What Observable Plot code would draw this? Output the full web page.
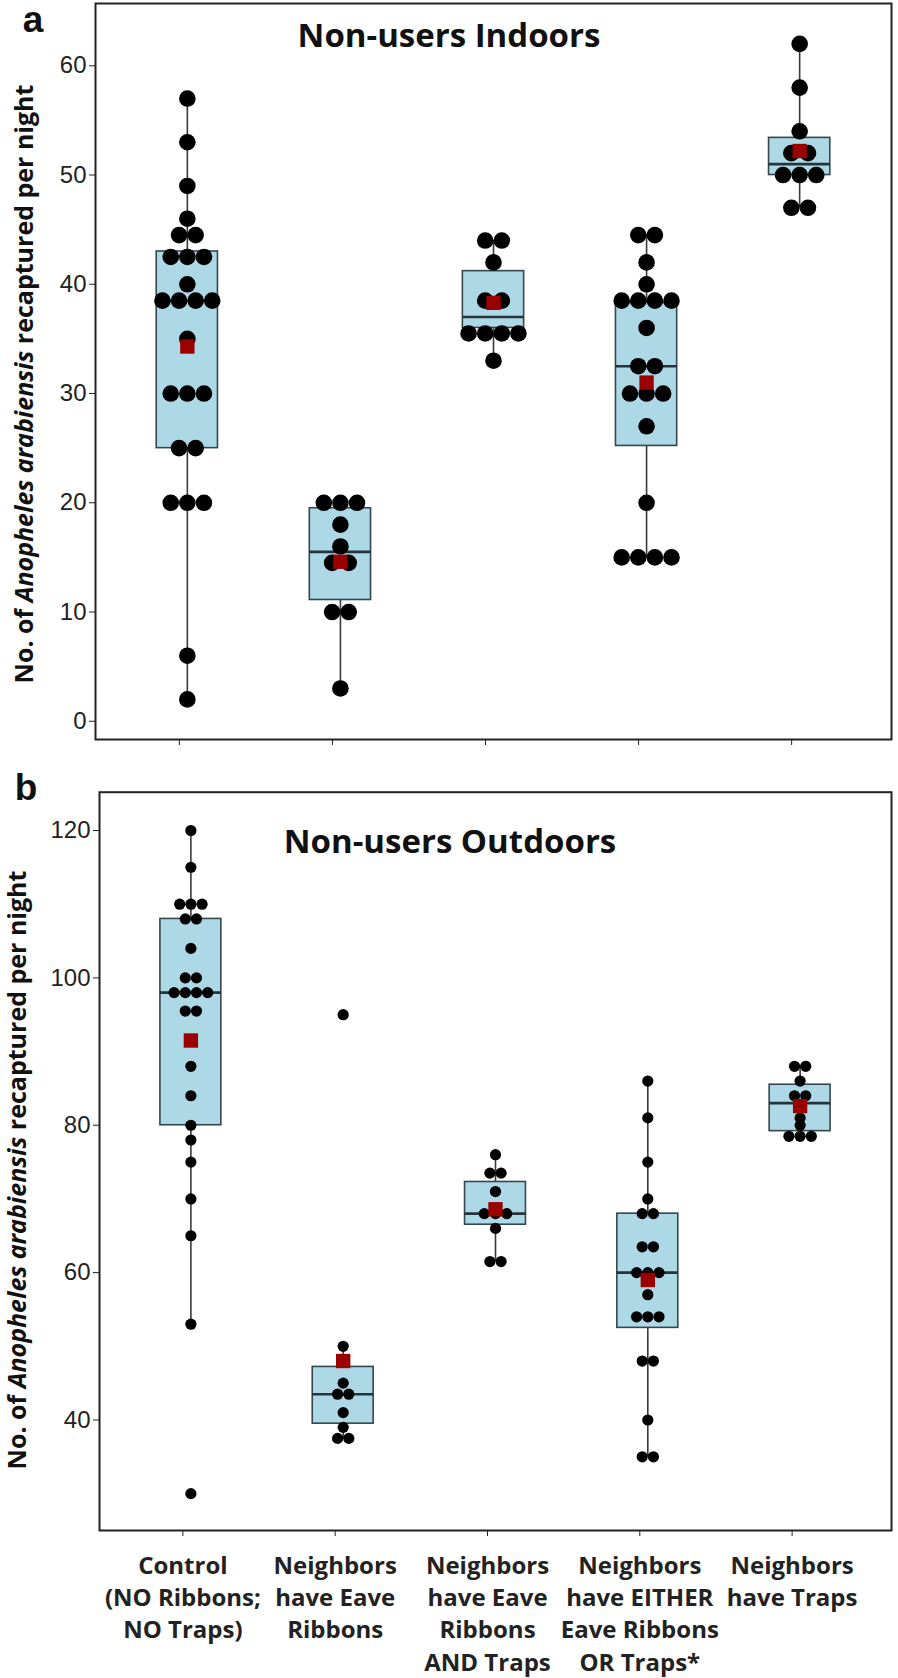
<!DOCTYPE html>
<html>
<head>
<meta charset="utf-8">
<script src="https://cdn.jsdelivr.net/npm/d3@7"></script>
<script src="https://cdn.jsdelivr.net/npm/@observablehq/plot@0.6"></script>
<style>
  body { margin: 0; background: #fff; }
  #chart svg { display: block; }
</style>
</head>
<body>
<div id="chart"></div>
<script>
// ---------- DATA ----------
const categories = [
  "Control\n(NO Ribbons;\nNO Traps)",
  "Neighbors\nhave Eave\nRibbons",
  "Neighbors\nhave Eave\nRibbons\nAND Traps",
  "Neighbors\nhave EITHER\nEave Ribbons\nOR Traps*",
  "Neighbors\nhave Traps"
];

// Panel a: Non-users Indoors
const indoorControl = [57, 53, 49, 46, 44.5, 44.5, 42.5, 42.5, 42.5, 40, 38.5, 38.5, 38.5, 38.5, 35, 30, 30, 30, 25, 25, 20, 20, 20, 6, 2];
const indoorRibbons = [20, 20, 20, 18, 16, 14.5, 14.5, 10, 10, 3];
const indoorBoth = [44, 44, 42, 38.5, 38.5, 35.5, 35.5, 35.5, 35.5, 33];
const indoorEither = [44.5, 44.5, 42, 40, 38.5, 38.5, 38.5, 38.5, 36, 32.5, 32.5, 30, 30, 30, 27, 20, 15, 15, 15, 15];
const indoorTraps = [62, 58, 54, 52, 52, 50, 50, 50, 47, 47];
const indoorQ1 = [25, 11.1, 36, 25.2, 50];
const indoorMedian = [38.5, 15.5, 37, 32.5, 51];
const indoorQ3 = [43, 19.5, 41.2, 38.3, 53.4];
const indoorWhiskerLow = [2, 3, 33, 15, 47];
const indoorWhiskerHigh = [57, 20, 44, 44.5, 62];
const indoorMean = [34.3, 14.6, 38.3, 31.0, 52.2];
const indoorTicks = [0, 10, 20, 30, 40, 50, 60];
const indoorDomain = [-1.67, 65.7];

// Panel b: Non-users Outdoors
const outdoorControl = [120, 115, 110, 110, 110, 108, 108, 104, 100, 100, 98, 98, 98, 98, 95.5, 95.5, 88, 84, 80, 78, 75, 70, 65, 53, 30];
const outdoorRibbons = [95, 50, 45, 43.5, 43.5, 41, 39, 37.5, 37.5];
const outdoorBoth = [76, 73.5, 73.5, 71, 68, 68, 68, 66, 61.5, 61.5];
const outdoorEither = [86, 81, 75, 70, 68, 68, 63.5, 63.5, 60, 60, 60, 57, 54, 54, 54, 48, 48, 40, 35, 35];
const outdoorTraps = [88, 88, 86, 84, 84, 81, 80, 78.5, 78.5, 78.5];
const outdoorQ1 = [80, 39.5, 66.5, 52.5, 79.2];
const outdoorMedian = [98, 43.5, 68, 60, 83];
const outdoorQ3 = [108, 47.2, 72.3, 68, 85.5];
const outdoorWhiskerLow = [53, 37.5, 61.5, 35, 78.5];
const outdoorWhiskerHigh = [120, 50, 76, 86, 88];
const outdoorMean = [91.5, 48, 68.6, 59, 82.6];
const outdoorTicks = [40, 60, 80, 100, 120];
const outdoorDomain = [25, 125.2];

const panelTitles = ["Non-users Indoors", "Non-users Outdoors"];
const panelLetters = ["a", "b"];
const yLabelParts = [["No. of ", "normal"], ["Anopheles arabiensis", "italic"], [" recaptured per night", "normal"]];

// ---------- DRAWING ----------
const W = 898;

function makePanel(cfg) {
  const groups = cfg.groups;
  const dots = [];
  groups.forEach((vals, i) => {
    const counts = d3.rollup(vals, v => v.length, d => d);
    const seen = new Map();
    vals.forEach(v => {
      const n = counts.get(v), k = seen.get(v) || 0;
      seen.set(v, k + 1);
      dots.push({cat: i, value: v, slot: k - (n - 1) / 2});
    });
  });
  const boxes = categories.map((c, i) => ({
    cat: i, q1: cfg.q1[i], med: cfg.med[i], q3: cfg.q3[i],
    lo: cfg.lo[i], hi: cfg.hi[i], mean: cfg.mean[i]
  }));
  const plotW = W - cfg.marginLeft - cfg.marginRight;
  const step = plotW / 5.2;
  const dotStep = 2 * cfg.r / step;
  const hw = 0.2;

  const svg = Plot.plot({
    width: W,
    height: cfg.height,
    marginTop: cfg.marginTop,
    marginBottom: cfg.marginBottom,
    marginLeft: cfg.marginLeft,
    marginRight: cfg.marginRight,
    style: {fontFamily: "'Liberation Sans', Arial, sans-serif", fontSize: "24px", color: "#222", background: "#fff"},
    x: {type: "linear", domain: [-0.6, 4.6]},
    y: {domain: cfg.domain},
    marks: [
      Plot.ruleX(boxes, {x: "cat", y1: "lo", y2: "hi", stroke: "#3a3a3a", strokeWidth: 1.6}),
      Plot.rect(boxes, {x1: d => d.cat - hw, x2: d => d.cat + hw, y1: "q1", y2: "q3", fill: "#add8e6", stroke: "#34474d", strokeWidth: 1.6}),
      Plot.ruleY(boxes, {y: "med", x1: d => d.cat - hw, x2: d => d.cat + hw, stroke: "#25343a", strokeWidth: 2.6}),
      Plot.dot(dots, {x: d => d.cat + d.slot * dotStep, y: "value", r: cfg.r, fill: "#000"}),
      Plot.dot(boxes, {x: "cat", y: "mean", symbol: "square", r: 8.1, fill: "#9a0000"}),
      Plot.frame({stroke: "#222", strokeWidth: 2}),
      Plot.axisY({ticks: cfg.ticks, tickSize: 6, tickPadding: 3, fontSize: 24, label: null}),
      Plot.axisX({ticks: [0, 1, 2, 3, 4], tickSize: 6, tickPadding: 14, label: null,
        tickFormat: i => cfg.showLabels ? categories[i] : "",
        fontSize: 24, fontWeight: "bold", fontFamily: "'Open Sans', sans-serif",
        lineHeight: 1.35, dx: -8})
    ]
  });

  const s = d3.select(svg);
  // panel letter
  s.append("text").attr("x", cfg.letterX).attr("y", cfg.letterY)
    .attr("font-family", "'Liberation Sans', Arial, sans-serif").attr("font-weight", "bold")
    .attr("font-size", 37).attr("fill", "#111").text(cfg.letter);
  // title
  s.append("text").attr("x", cfg.titleX).attr("y", cfg.titleY).attr("text-anchor", "middle")
    .attr("font-family", "'Open Sans', sans-serif").attr("font-weight", "bold")
    .attr("font-size", 33).attr("fill", "#111").text(cfg.title);
  // y label with italic species name
  const t = s.append("text")
    .attr("transform", `translate(${cfg.ylabX},${cfg.ylabY}) rotate(-90)`)
    .attr("text-anchor", "middle")
    .attr("font-family", "'Open Sans', sans-serif").attr("font-weight", "bold")
    .attr("font-size", 25).attr("fill", "#111");
  yLabelParts.forEach(([txt, st]) => t.append("tspan").attr("font-style", st).text(txt));
  return svg;
}

const chart = document.getElementById("chart");
chart.appendChild(makePanel({
  groups: [indoorControl, indoorRibbons, indoorBoth, indoorEither, indoorTraps],
  q1: indoorQ1, med: indoorMedian, q3: indoorQ3, lo: indoorWhiskerLow, hi: indoorWhiskerHigh, mean: indoorMean,
  ticks: indoorTicks, domain: indoorDomain,
  height: 760, marginTop: 3, marginBottom: 21, marginLeft: 95, marginRight: 7,
  r: 8.3, showLabels: false,
  letter: panelLetters[0], letterX: 33, letterY: 32,
  title: panelTitles[0], titleX: 449, titleY: 47,
  ylabX: 33, ylabY: 384
}));
chart.appendChild(makePanel({
  groups: [outdoorControl, outdoorRibbons, outdoorBoth, outdoorEither, outdoorTraps],
  q1: outdoorQ1, med: outdoorMedian, q3: outdoorQ3, lo: outdoorWhiskerLow, hi: outdoorWhiskerHigh, mean: outdoorMean,
  ticks: outdoorTicks, domain: outdoorDomain,
  height: 918, marginTop: 31.7, marginBottom: 148, marginLeft: 99, marginRight: 7,
  r: 5.6, showLabels: true,
  letter: panelLetters[1], letterX: 26, letterY: 40,
  title: panelTitles[1], titleX: 450, titleY: 93,
  ylabX: 26, ylabY: 410
}));
</script>
</body>
</html>
